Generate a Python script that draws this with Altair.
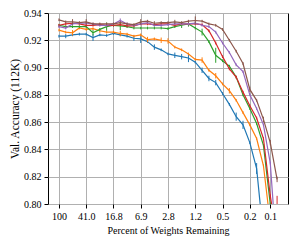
import altair as alt
import pandas as pd

# pruning iteration index (each step keeps 80% of weights)
iters = list(range(33))
tick_iters = [0, 4, 8, 12, 16, 20, 24, 28, 31]
tick_labels = ["100", "41.0", "16.8", "6.9", "2.8", "1.2", "0.5", "0.2", "0.1"]
y_ticks = [0.80, 0.82, 0.84, 0.86, 0.88, 0.90, 0.92, 0.94]

names = ["s1", "s2", "s3", "s4", "s5", "s6"]
colors = ["#1f77b4", "#ff7f0e", "#2ca02c", "#d62728", "#9467bd", "#8c564b"]

blue = [0.923, 0.923, 0.924, 0.9245, 0.9245, 0.922, 0.924, 0.9235, 0.925, 0.924, 0.923,
        0.9215, 0.921, 0.919, 0.915, 0.913, 0.910, 0.909, 0.908, 0.907, 0.904, 0.898,
        0.892, 0.889, 0.881, 0.873, 0.864, 0.858, 0.845, 0.826, 0.776, 0.740, 0.700]
orange = [0.9275, 0.926, 0.9255, 0.929, 0.928, 0.9285, 0.927, 0.926, 0.926, 0.925, 0.9245,
          0.923, 0.924, 0.9205, 0.921, 0.920, 0.9195, 0.915, 0.913, 0.910, 0.906, 0.9055,
          0.898, 0.894, 0.888, 0.883, 0.876, 0.867, 0.858, 0.848, 0.828, 0.786, 0.740]
green = [0.931, 0.930, 0.930, 0.930, 0.930, 0.9255, 0.928, 0.930, 0.931, 0.9305, 0.930,
         0.929, 0.929, 0.929, 0.929, 0.929, 0.9285, 0.930, 0.931, 0.932, 0.929, 0.926,
         0.919, 0.909, 0.905, 0.901, 0.893, 0.880, 0.870, 0.859, 0.843, 0.800, 0.760]
red = [0.931, 0.932, 0.9325, 0.932, 0.931, 0.931, 0.9315, 0.931, 0.931, 0.9315, 0.9305,
       0.9305, 0.932, 0.932, 0.9315, 0.932, 0.932, 0.931, 0.932, 0.932, 0.932, 0.9315,
       0.927, 0.918, 0.908, 0.899, 0.893, 0.882, 0.872, 0.863, 0.848, 0.806, 0.775]
purple = [0.930, 0.929, 0.932, 0.9325, 0.9325, 0.932, 0.931, 0.931, 0.932, 0.9345, 0.932,
          0.931, 0.932, 0.933, 0.931, 0.931, 0.9315, 0.932, 0.932, 0.932, 0.9325, 0.931,
          0.930, 0.926, 0.918, 0.911, 0.902, 0.897, 0.880, 0.870, 0.858, 0.830, 0.760]
brown = [0.935, 0.9335, 0.9335, 0.933, 0.9335, 0.932, 0.932, 0.932, 0.932, 0.933, 0.932,
         0.9315, 0.9335, 0.934, 0.9325, 0.933, 0.933, 0.9335, 0.933, 0.934, 0.9345, 0.934,
         0.932, 0.931, 0.928, 0.920, 0.912, 0.903, 0.884, 0.876, 0.862, 0.845, 0.818]

blue_err = [0.001, 0.0015, 0.001, 0.001, 0.001, 0.0025, 0.001, 0.001, 0.001, 0.001, 0.001,
            0.002, 0.003, 0.001, 0.002, 0.001, 0.001, 0.002, 0.002, 0.003, 0.001, 0.002,
            0.002, 0.002, 0.001, 0.001, 0.003, 0.003, 0.001, 0.004, 0.004, 0.002, 0.002]
orange_err = [0.001, 0.001, 0.002, 0.001, 0.001, 0.001, 0.0015, 0.001, 0.001, 0.002, 0.001,
              0.001, 0.001, 0.002, 0.001, 0.002, 0.002, 0.001, 0.001, 0.001, 0.001, 0.002,
              0.001, 0.002, 0.001, 0.002, 0.001, 0.001, 0.001, 0.001, 0.001, 0.001, 0.001]
green_err = [0.001, 0.001, 0.001, 0.001, 0.001, 0.002, 0.001, 0.003, 0.001, 0.003, 0.001,
             0.001, 0.001, 0.001, 0.001, 0.001, 0.001, 0.001, 0.002, 0.002, 0.001, 0.0025,
             0.001, 0.0055, 0.001, 0.001, 0.001, 0.001, 0.001, 0.001, 0.001, 0.001, 0.001]
red_err = [0.001, 0.001, 0.001, 0.001, 0.001, 0.001, 0.001, 0.001, 0.001, 0.001, 0.001,
           0.001, 0.001, 0.001, 0.001, 0.001, 0.001, 0.001, 0.001, 0.001, 0.001, 0.001,
           0.001, 0.001, 0.001, 0.001, 0.001, 0.001, 0.001, 0.001, 0.001, 0.001, 0.031]
purple_err = [0.001, 0.001, 0.001, 0.001, 0.001, 0.001, 0.001, 0.001, 0.001, 0.0015, 0.001,
              0.001, 0.001, 0.001, 0.001, 0.001, 0.001, 0.001, 0.001, 0.001, 0.001, 0.001,
              0.001, 0.001, 0.001, 0.001, 0.001, 0.001, 0.001, 0.001, 0.001, 0.001, 0.001]
brown_err = [0.001, 0.001, 0.002, 0.001, 0.002, 0.001, 0.001, 0.001, 0.001, 0.001, 0.001,
             0.001, 0.002, 0.001, 0.0015, 0.001, 0.001, 0.0015, 0.001, 0.001, 0.003, 0.001,
             0.001, 0.001, 0.001, 0.001, 0.001, 0.001, 0.002, 0.001, 0.002, 0.002, 0.002]

series = [blue, orange, green, red, purple, brown]
errors = [blue_err, orange_err, green_err, red_err, purple_err, brown_err]

expr = "''"
for it, lab in zip(reversed(tick_iters), reversed(tick_labels)):
    expr = f"datum.value == {it} ? '{lab}' : ({expr})"

x_axis = alt.Axis(values=tick_iters, labelExpr=expr, title="Percent of Weights Remaining",
                  grid=True, domain=False, ticks=True, tickSize=4, labelPadding=3,
                  titlePadding=4, labelFlush=False)
y_axis = alt.Axis(values=y_ticks, format=".2f", title="Val. Accuracy (112K)",
                  grid=True, domain=False, ticks=True, tickSize=4, labelPadding=3,
                  minExtent=24, maxExtent=24, titlePadding=4, titleFontSize=11.5)
x_scale = alt.Scale(domain=[-1.6, 33.6], nice=False, zero=False)
y_scale = alt.Scale(domain=[0.80, 0.94], nice=False, zero=False)

layers = []
for name, col, vals, errs in zip(names, colors, series, errors):
    df = pd.DataFrame({
        "it": iters,
        "acc": vals,
        "lo": [v - e for v, e in zip(vals, errs)],
        "hi": [v + e for v, e in zip(vals, errs)],
        "series": name,
    })
    line = alt.Chart(df).mark_line(color=col, strokeWidth=1.2, clip=True).encode(
        x=alt.X("it:Q", scale=x_scale, axis=x_axis),
        y=alt.Y("acc:Q", scale=y_scale, axis=y_axis),
    )
    bars = alt.Chart(df).mark_rule(color=col, strokeWidth=1, clip=True).encode(
        x=alt.X("it:Q", scale=x_scale, axis=x_axis),
        y=alt.Y("lo:Q", scale=y_scale, axis=y_axis),
        y2="hi:Q",
    )
    layers += [bars, line]

chart = alt.layer(*layers).properties(
    width=240, height=191,
    autosize=alt.AutoSizeParams(type="none"),
    padding={"left": 40, "top": 5, "right": 6, "bottom": 33},
).configure_view(
    stroke="black", strokeWidth=1
).configure_axis(
    labelFont="Liberation Serif", titleFont="Liberation Serif",
    labelFontSize=10, titleFontSize=10, titleFontWeight="normal",
    labelColor="black", titleColor="black", tickColor="black",
    gridColor="#b0b0b0", gridWidth=1, gridOpacity=1,
)

chart.save("out.html", embed_options={"renderer": "svg", "actions": False})
